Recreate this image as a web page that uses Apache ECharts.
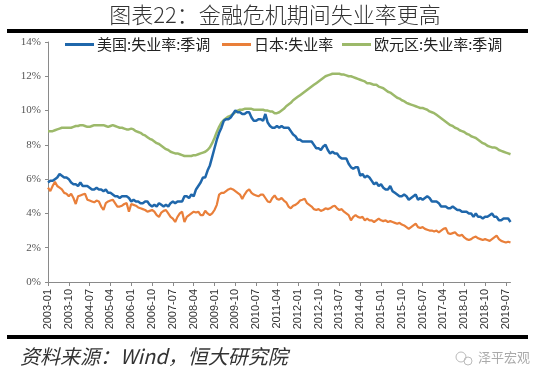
<!DOCTYPE html>
<html>
<head>
<meta charset="utf-8">
<script src="https://cdn.jsdelivr.net/npm/echarts@6/dist/echarts.min.js"></script>
<style>
html,body{margin:0;padding:0;background:#fff;}
#chart{width:550px;height:379px;}
</style>
</head>
<body>
<div id="chart"></div>
<script>
// ---- data (monthly, 2003-01 .. 2019-09) ----
const startYear = 2003, endYear = 2019, endMonth = 9;
const categories = [];
for (let y = startYear; y <= endYear; y++) {
  for (let m = 1; m <= 12; m++) {
    if (y === endYear && m > endMonth) break;
    categories.push(y + '-' + (m < 10 ? '0' + m : '' + m));
  }
}

const seriesNames = ['美国:失业率:季调', '日本:失业率', '欧元区:失业率:季调'];

const usRate = [
  5.8,5.9,5.9,6.0,6.1,6.3,6.2,6.1,6.1,6.0,5.8,5.7,
  5.7,5.6,5.8,5.6,5.6,5.6,5.5,5.4,5.4,5.5,5.4,5.4,
  5.3,5.4,5.2,5.2,5.1,5.0,5.0,4.9,5.0,5.0,5.0,4.9,
  4.7,4.8,4.7,4.7,4.6,4.6,4.7,4.7,4.5,4.4,4.5,4.4,
  4.6,4.5,4.4,4.5,4.4,4.6,4.7,4.6,4.7,4.7,4.7,5.0,
  5.0,4.9,5.1,5.0,5.4,5.6,5.8,6.1,6.1,6.5,6.8,7.3,
  7.8,8.3,8.7,9.0,9.4,9.5,9.5,9.6,9.8,10.0,9.9,9.9,
  9.8,9.8,9.9,9.9,9.6,9.4,9.4,9.5,9.5,9.4,9.8,9.3,
  9.1,9.0,9.0,9.1,9.0,9.1,9.0,9.0,9.0,8.8,8.6,8.5,
  8.3,8.3,8.2,8.2,8.2,8.2,8.2,8.0,7.8,7.8,7.7,7.9,
  8.0,7.7,7.5,7.6,7.5,7.5,7.3,7.2,7.2,7.2,6.9,6.7,
  6.6,6.7,6.7,6.2,6.3,6.1,6.2,6.1,5.9,5.7,5.8,5.6,
  5.7,5.5,5.4,5.4,5.6,5.3,5.2,5.1,5.0,5.0,5.1,5.0,
  4.8,4.9,5.0,5.1,4.8,4.9,4.8,4.9,5.0,4.9,4.7,4.7,
  4.7,4.6,4.4,4.4,4.4,4.3,4.3,4.4,4.3,4.2,4.2,4.1,
  4.1,4.1,4.0,4.0,3.8,4.0,3.8,3.8,3.7,3.8,3.8,3.9,
  4.0,3.8,3.8,3.6,3.6,3.7,3.7,3.7,3.5
];

const jpRate = [
  5.5,5.3,5.6,5.85,5.6,5.5,5.4,5.2,5.15,5.0,5.15,4.9,
  4.55,5.0,5.05,5.1,5.15,4.8,4.75,4.7,4.65,4.75,4.7,4.4,
  4.2,4.6,4.7,4.75,4.8,4.6,4.4,4.4,4.45,4.55,4.6,4.1,
  4.55,4.5,4.45,4.35,4.3,4.25,4.2,4.1,4.15,4.2,4.1,3.9,
  3.8,4.05,4.15,4.2,4.0,3.8,3.7,3.5,3.8,4.0,4.1,3.5,
  3.8,3.9,4.0,4.1,4.05,4.1,3.9,3.9,4.15,4.0,3.9,4.0,
  4.2,4.5,5.1,5.2,5.2,5.3,5.4,5.45,5.4,5.3,5.2,5.1,
  4.85,5.1,5.3,5.4,5.2,5.1,5.05,5.0,5.1,5.1,4.9,4.7,
  4.65,4.9,5.05,4.85,4.8,4.9,4.75,4.65,4.4,4.3,4.45,4.5,
  4.6,4.75,4.8,4.86,4.6,4.5,4.4,4.25,4.2,4.25,4.15,4.2,
  4.3,4.25,4.3,4.4,4.45,4.3,4.2,4.25,4.1,4.0,3.9,3.6,
  3.8,3.9,3.8,3.75,3.8,3.6,3.7,3.6,3.6,3.5,3.6,3.7,
  3.6,3.55,3.6,3.5,3.55,3.5,3.45,3.4,3.45,3.35,3.3,3.2,
  3.1,3.2,3.3,3.4,3.2,3.15,3.2,3.1,3.05,3.0,3.0,2.95,
  3.0,2.9,3.0,3.1,3.15,2.85,2.8,2.85,2.9,2.75,2.7,2.75,
  2.6,2.5,2.45,2.5,2.6,2.65,2.55,2.5,2.45,2.5,2.45,2.4,
  2.5,2.6,2.7,2.5,2.4,2.35,2.3,2.35,2.3
];

const euRate = [
  8.8,8.8,8.8,8.85,8.9,8.95,9.0,9.0,9.0,9.0,9.0,9.05,
  9.1,9.1,9.15,9.15,9.1,9.05,9.05,9.1,9.15,9.15,9.15,9.15,
  9.15,9.1,9.05,9.1,9.15,9.1,9.05,9.0,9.0,8.95,8.9,8.9,
  8.95,8.9,8.8,8.75,8.7,8.6,8.55,8.45,8.35,8.3,8.2,8.1,
  8.05,7.95,7.85,7.75,7.7,7.6,7.55,7.5,7.5,7.45,7.4,7.35,
  7.35,7.35,7.35,7.4,7.4,7.45,7.5,7.55,7.6,7.7,7.85,8.1,
  8.4,8.75,9.05,9.3,9.45,9.55,9.65,9.7,9.8,9.9,10.0,10.05,
  10.05,10.1,10.1,10.1,10.1,10.05,10.05,10.05,10.05,10.05,10.0,10.0,
  9.95,9.95,9.85,9.85,9.9,10.0,10.1,10.25,10.35,10.45,10.6,10.7,
  10.8,10.9,11.0,11.1,11.2,11.3,11.4,11.5,11.6,11.7,11.8,11.9,
  12.0,12.05,12.1,12.15,12.15,12.15,12.15,12.1,12.1,12.05,12.0,12.0,
  11.95,11.9,11.85,11.8,11.75,11.7,11.6,11.6,11.55,11.5,11.5,11.4,
  11.35,11.3,11.2,11.1,11.05,10.95,10.85,10.75,10.7,10.6,10.55,10.45,
  10.4,10.35,10.3,10.25,10.2,10.15,10.15,10.1,10.05,9.95,9.9,9.85,
  9.75,9.65,9.55,9.45,9.35,9.25,9.15,9.1,9.0,8.95,8.85,8.8,
  8.75,8.65,8.6,8.5,8.45,8.4,8.3,8.2,8.1,8.05,7.95,7.9,
  7.85,7.85,7.8,7.7,7.65,7.6,7.55,7.5,7.45
];

const yTicks = [0, 2, 4, 6, 8, 10, 12, 14];
const titleText = '图表22：金融危机期间失业率更高';
const sourceText = '资料来源：Wind，恒大研究院';
const watermarkText = '泽平宏观';

// ---- styles ----
const colors = ['#1f67ab', '#e97f3a', '#9cb96a'];
const cjk = '"Noto Sans CJK SC", "Noto Sans", sans-serif';

const chart = echarts.init(document.getElementById('chart'), null, {renderer: 'canvas'});

function legendFor(i, left) {
  return {
    data: [seriesNames[i]],
    left: left, top: 37,
    padding: 0,
    icon: 'rect', itemWidth: 29, itemHeight: 3, itemGap: 0,
    textStyle: {fontFamily: cjk, fontSize: 15, color: '#222', padding: [0, 0, 0, -2]},
    selectedMode: false
  };
}

chart.setOption({
  backgroundColor: '#fff',
  animation: false,
  color: colors,
  grid: {left: 48, right: 39.5, top: 42, bottom: 97, containLabel: false},
  legend: [legendFor(0, 65), legendFor(1, 222), legendFor(2, 342)],
  xAxis: {
    type: 'category',
    data: categories,
    boundaryGap: false,
    axisLine: {show: true, lineStyle: {color: '#8a8a8a', width: 1}},
    axisTick: {show: true, interval: 8, length: 4, inside: false, lineStyle: {color: '#8a8a8a'}},
    axisLabel: {
      interval: 8, rotate: 90, margin: 7,
      fontFamily: '"Liberation Sans", Arial, sans-serif', fontSize: 11, color: '#333'
    },
    splitLine: {show: false}
  },
  yAxis: {
    type: 'value',
    min: yTicks[0], max: yTicks[yTicks.length - 1], interval: yTicks[1] - yTicks[0],
    axisLine: {show: true, lineStyle: {color: '#8a8a8a', width: 1}},
    axisTick: {show: true, length: 3, lineStyle: {color: '#8a8a8a'}},
    axisLabel: {
      formatter: '{value}%', margin: 7,
      fontFamily: '"Liberation Serif", "Times New Roman", serif', fontSize: 11, color: '#555'
    },
    splitLine: {show: false}
  },
  series: [
    {name: seriesNames[0], type: 'line', data: usRate, symbol: 'none', lineStyle: {width: 2.5, color: colors[0]}, z: 4},
    {name: seriesNames[1], type: 'line', data: jpRate, symbol: 'none', lineStyle: {width: 2.2, color: colors[1]}, z: 3},
    {name: seriesNames[2], type: 'line', data: euRate, symbol: 'none', lineStyle: {width: 2.5, color: colors[2]}, z: 2}
  ],
  graphic: [
    {type: 'text', left: 'center', top: 4, style: {text: titleText, font: '300 22px ' + cjk, fill: '#333'}},
    {type: 'rect', shape: {x: 7, y: 29, width: 521, height: 4}, style: {fill: '#000'}},
    {type: 'rect', shape: {x: 7, y: 335, width: 521, height: 4}, style: {fill: '#000'}},
    {type: 'text', left: 20, top: 346, style: {text: sourceText, font: 'italic 20px ' + cjk, fill: '#333'}},
    {type: 'circle', shape: {cx: 461, cy: 357, r: 5}, style: {fill: 'none', stroke: '#bbb', lineWidth: 1}},
    {type: 'circle', shape: {cx: 468, cy: 361, r: 4}, style: {fill: 'none', stroke: '#bbb', lineWidth: 1}},
    {type: 'text', left: 478, top: 351, style: {text: watermarkText, font: '13px ' + cjk, fill: '#aaa'}}
  ]
});
</script>
</body>
</html>
